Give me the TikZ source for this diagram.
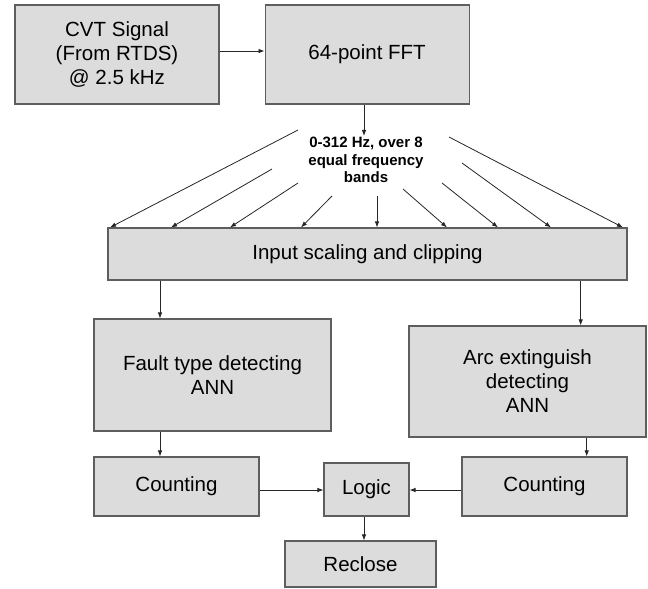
\documentclass[tikz,border=0pt]{standalone}
\usepackage{fontspec}
\setmainfont{Liberation Sans}
\usetikzlibrary{positioning,arrows.meta}
\definecolor{boxfill}{HTML}{DCDCDC}
\definecolor{boxline}{HTML}{5E5E5E}

\begin{document}
\begin{tikzpicture}[x=1pt,y=-1pt,>={Latex[length=6pt,width=4.5pt]},
  every node/.style={font=\fontsize{20.5}{24}\selectfont},
  block/.style={draw=boxline,fill=boxfill,line width=1.1pt,align=center,inner sep=0pt},
  link/.style={->,draw=black!85,line width=0.8pt}]
\useasboundingbox (0,0) rectangle (648,589);

\node[block,minimum width=204pt,minimum height=99pt] (cvt) at (117,54.5) {CVT Signal\\(From RTDS)\\@ 2.5 kHz};
\node[block,minimum width=204pt,minimum height=99pt] (fft) [right=45pt of cvt] {64-point FFT};
\node[align=center,inner sep=1pt,font=\bfseries\fontsize{15}{17.5}\selectfont] (bands) at (366,160) {0-312 Hz, over 8\\equal frequency\\bands};
\node[block,minimum width=519pt,minimum height=52pt] (input) at (367.5,254) {Input scaling and clipping};
\node[block,minimum width=237pt,minimum height=112pt] (fault) at (212.5,375) {Fault type detecting\\ANN};
\node[block,minimum width=237pt,minimum height=111pt] (arc) at (527.5,381.5) {Arc extinguish\\detecting\\ANN};
\node[block,minimum width=165pt,minimum height=59pt] (count1) at (176.5,486.5) {Counting};
\node[block,minimum width=85pt,minimum height=53pt] (logic) at (366.5,489.5) {Logic};
\node[block,minimum width=165pt,minimum height=59pt] (count2) at (544.5,486.5) {Counting};
\node[block,minimum width=151pt,minimum height=46pt] (reclose) at (360.5,564) {Reclose};

% connector lines
\coordinate (sig) at (0,51);
\coordinate (mid) at (364,0);
\coordinate (fin) at (160,0);
\coordinate (ain) at (580.7,0);
\coordinate (aout) at (586.7,0);
\coordinate (lg) at (0,490);

\draw[link] (cvt.east |- sig) -- (fft.west |- sig);
\draw[link] (mid |- fft.south) -- (mid |- bands.north);
\foreach \sx/\sy/\tx [count=\i] in {298/130/110, 272/169/171, 298/183/230, 332/196/301,
    377/196/377, 403/189/447, 442/183/498, 462/163/551, 449/137/623} {
  \coordinate (band\i) at (\sx,\sy);
  \draw[link] (band\i) -- (\tx,0 |- input.north);
}
\draw[link] (fin |- input.south) -- (fin |- fault.north);
\draw[link] (ain |- input.south) -- (ain |- arc.north);
\draw[link] (fin |- fault.south) -- (fin |- count1.north);
\draw[link] (aout |- arc.south) -- (aout |- count2.north);
\draw[link] (count1.east |- lg) -- (logic.west |- lg);
\draw[link] (count2.west |- lg) -- (logic.east |- lg);
\draw[link] (mid |- logic.south) -- (mid |- reclose.north);
\end{tikzpicture}
\end{document}
